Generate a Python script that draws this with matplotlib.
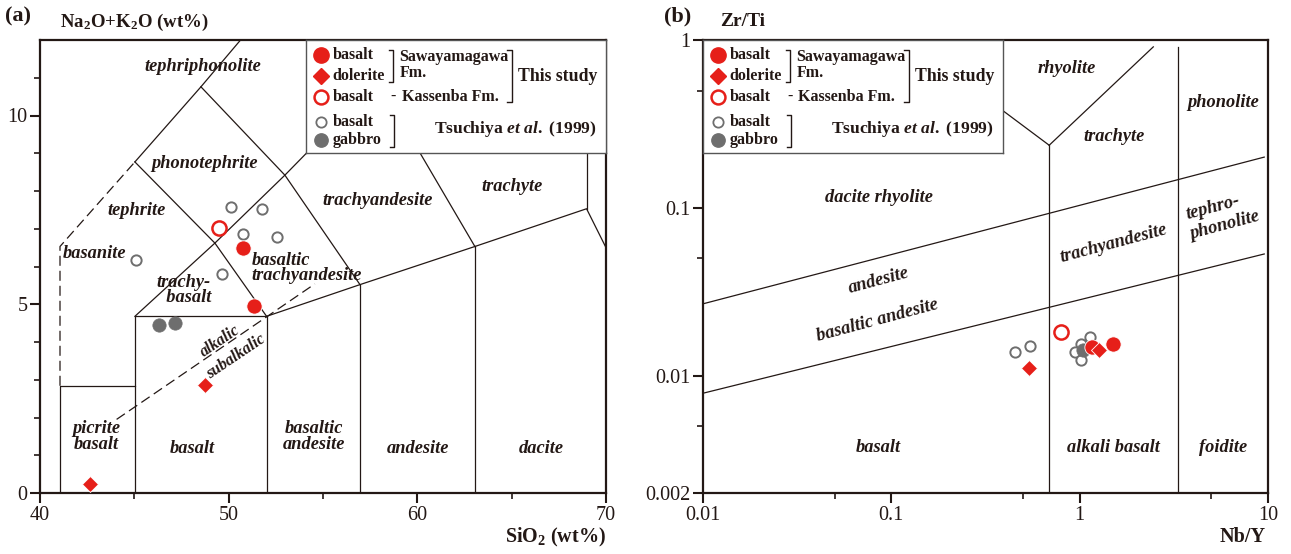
import numpy as np
import matplotlib as mpl
mpl.use("Agg")
from matplotlib import pyplot as plt

# ---- data ----
# (a) TAS: SiO2 vs Na2O+K2O
ss_basalt_sio2 = [50.74, 51.34]
ss_basalt_alk = [6.49, 4.96]
ss_dolerite_sio2 = [48.74, 42.65]
ss_dolerite_alk = [2.86, 0.24]
kb_basalt_sio2 = [49.50]
kb_basalt_alk = [7.02]
ts_basalt_sio2 = [50.12, 51.75, 50.78, 52.58, 45.07, 49.65]
ts_basalt_alk = [7.58, 7.51, 6.87, 6.78, 6.18, 5.81]
ts_gabbro_sio2 = [46.32, 47.15]
ts_gabbro_alk = [4.46, 4.50]

# (b) Nb/Y vs Zr/Ti
ss_basalt_nby = [1.16, 1.51]
ss_basalt_zrti = [0.01486, 0.01548]
ss_dolerite_nby = [0.541, 1.26]
ss_dolerite_zrti = [0.01105, 0.01419]
kb_basalt_nby = [0.800]
kb_basalt_zrti = [0.01823]
ts_basalt_nby = [0.452, 0.545, 1.13, 1.02, 0.943, 1.02]
ts_basalt_zrti = [0.01387, 0.01506, 0.01703, 0.01555, 0.01387, 0.01239]
ts_gabbro_nby = [1.04]
ts_gabbro_zrti = [0.0142]

# field boundaries
tas_lines = [
    [(41.06, 0), (41.06, 2.84), (45.03, 2.84)],
    [(45.03, 0), (45.03, 4.68), (52.01, 4.68), (52.01, 0)],
    [(52.01, 4.68), (56.96, 5.52), (63.05, 6.53), (68.97, 7.53), (70.0, 6.5)],
    [(56.96, 0), (56.96, 5.52)],
    [(63.05, 0), (63.05, 6.53)],
    [(68.97, 7.53), (68.97, 10.0)],
    [(45.03, 4.68), (49.27, 6.62), (52.98, 8.42), (60.0, 12.0)],
    [(45.03, 8.77), (49.27, 6.62), (52.01, 4.68)],
    [(45.03, 8.77), (48.53, 10.76), (50.63, 12.0)],
    [(48.53, 10.76), (52.98, 8.42), (56.96, 5.52)],
    [(56.6, 12.0), (60.14, 9.01), (63.05, 6.53)],
]
tas_dashed = [
    [(41.06, 2.84), (41.06, 6.53), (45.03, 8.77)],
    [(44.06, 1.95), (54.57, 5.54)],
]
wf_lines = [
    [(0.689, 0.002), (0.689, 0.236)],
    [(0.689, 0.236), (2.46, 0.91)],
    [(0.689, 0.236), (0.25, 0.552)],
    [(3.32, 0.002), (3.32, 0.91)],
    [(0.01, 0.0268), (9.55, 0.2006)],
    [(0.01, 0.00786), (9.55, 0.0531)],
]

tas_labels = [
    ("tephriphonolite", 48.64, 11.3),
    ("phonotephrite", 48.74, 8.73),
    ("tephrite", 45.14, 7.48),
    ("basanite", 42.9, 6.34),
    ("trachyandesite", 57.9, 7.75),
    ("trachyte", 65.0, 8.12),
    ("picrite\nbasalt", 43.0, 1.5),
    ("basalt", 48.05, 1.17),
    ("basaltic\nandesite", 54.52, 1.5),
    ("andesite", 60.03, 1.17),
    ("dacite", 66.55, 1.17),
]
wf_labels = [
    ("rhyolite", 0.859, 0.679, 0),
    ("trachyte", 1.53, 0.265, 0),
    ("phonolite", 5.75, 0.425, 0),
    ("dacite rhyolite", 0.0855, 0.116, 0),
    ("trachyandesite", 1.52, 0.0615, 15),
    ("andesite", 0.0855, 0.0369, 15),
    ("basaltic andesite", 0.0848, 0.0214, 15),
    ("basalt", 0.0855, 0.00374, 0),
    ("alkali basalt", 1.52, 0.00374, 0),
    ("foidite", 5.79, 0.00374, 0),
]

RED = "#e61f19"
GRAY = "#6e6e6e"
INK = "#231815"

plt.rcParams["font.family"] = ["Liberation Serif", "DejaVu Serif"]
plt.rcParams["mathtext.fontset"] = "custom"
plt.rcParams["mathtext.rm"] = "Liberation Serif:bold"
plt.rcParams["mathtext.it"] = "Liberation Serif:italic:bold"
plt.rcParams["mathtext.bf"] = "Liberation Serif:bold"
plt.rcParams["text.color"] = INK
plt.rcParams["xtick.color"] = INK
plt.rcParams["ytick.color"] = INK

W, H = 1291, 554
fig = plt.figure(figsize=(W / 100, H / 100), dpi=100)
ax1 = fig.add_axes([40 / W, 1 - 493 / H, 566 / W, 453 / H])
ax2 = fig.add_axes([703 / W, 1 - 493 / H, 565 / W, 453 / H])

lab_kw = dict(fontsize=13.2, fontweight="bold", fontstyle="italic", ha="center", va="center")


def style_axes(ax):
    for s in ax.spines.values():
        s.set_linewidth(1.6)
        s.set_color(INK)
    ax.tick_params(which="major", direction="out", length=7, width=1.5, labelsize=14.5, pad=2)
    ax.tick_params(which="minor", direction="out", length=4.5, width=1.2)


def draw_points(ax, d):
    ax.plot(d["tb"][0], d["tb"][1], "o", ms=7.4, mfc="white", mec=GRAY, mew=1.4, ls="none", zorder=3)
    ax.plot(d["tg"][0], d["tg"][1], "o", ms=9.6, mfc=GRAY, mec=GRAY, mew=0.5, ls="none", zorder=3)
    ax.plot(d["kb"][0], d["kb"][1], "o", ms=10.2, mfc="white", mec=RED, mew=1.8, ls="none", zorder=4)
    ax.plot(d["sb"][0], d["sb"][1], "o", ms=11, mfc=RED, mec="white", mew=0.6, ls="none", zorder=4)
    ax.plot(d["sd"][0], d["sd"][1], "D", ms=8.6, mfc=RED, mec="white", mew=0.6, ls="none", zorder=5)


# ---- (a) TAS ----
style_axes(ax1)
ax1.set_xlim(40, 70)
ax1.set_ylim(0, 12)
ax1.set_xticks([40, 50, 60, 70])
ax1.set_xticks([45, 55, 65], minor=True)
ax1.set_yticks([0, 5, 10])
ax1.set_yticks([1, 2, 3, 4, 6, 7, 8, 9, 11], minor=True)
for ln in tas_lines:
    xs, ys = zip(*ln)
    ax1.plot(xs, ys, color=INK, lw=0.9, zorder=1)
for ln in tas_dashed:
    xs, ys = zip(*ln)
    ax1.plot(xs, ys, color=INK, lw=0.9, ls=(0, (8, 4)), zorder=1)
for t, x, y in tas_labels:
    ax1.text(x, y, t, linespacing=0.95, **lab_kw)
ax1.text(47.62, 5.38, "trachy-\n  basalt", linespacing=0.85, multialignment="left", **lab_kw)
ax1.text(51.22, 5.95, "basaltic\ntrachyandesite", linespacing=0.85, fontsize=13.2, fontweight="bold",
         fontstyle="italic", ha="left", va="center")
ax1.text(49.54, 4.02, "alkalic", fontsize=11.5, fontweight="bold", fontstyle="italic", ha="center", va="center", rotation=34)
ax1.text(50.39, 3.6, "subalkalic", fontsize=11.5, fontweight="bold", fontstyle="italic", ha="center", va="center", rotation=34)

draw_points(ax1, dict(tb=(ts_basalt_sio2, ts_basalt_alk), tg=(ts_gabbro_sio2, ts_gabbro_alk),
                      kb=(kb_basalt_sio2, kb_basalt_alk), sb=(ss_basalt_sio2, ss_basalt_alk),
                      sd=(ss_dolerite_sio2, ss_dolerite_alk)))

# ---- (b) Winchester & Floyd ----
style_axes(ax2)
ax2.set_xscale("log")
ax2.set_yscale("log")
ax2.set_xlim(0.01, 10)
ax2.set_ylim(0.002, 1)
ax2.set_xticks([0.01, 0.1, 1, 10], ["0.01", "0.1", "1", "10"])
ax2.set_xticks([0.05, 0.5, 5], [], minor=True)
ax2.set_yticks([0.002, 0.01, 0.1, 1], ["0.002", "0.01", "0.1", "1"])
ax2.set_yticks([0.005, 0.05, 0.5], [], minor=True)
for ln in wf_lines:
    xs, ys = zip(*ln)
    ax2.plot(xs, ys, color=INK, lw=0.9, zorder=1)
for t, x, y, r in wf_labels:
    ax2.text(x, y, t, rotation=r, rotation_mode="anchor", **lab_kw)
ax2.text(5.08, 0.1005, "tephro-", rotation=15, rotation_mode="anchor", **lab_kw)
ax2.text(5.93, 0.0782, "phonolite", rotation=15, rotation_mode="anchor", **lab_kw)

draw_points(ax2, dict(tb=(ts_basalt_nby, ts_basalt_zrti), tg=(ts_gabbro_nby, ts_gabbro_zrti),
                      kb=(kb_basalt_nby, kb_basalt_zrti), sb=(ss_basalt_nby, ss_basalt_zrti),
                      sd=(ss_dolerite_nby, ss_dolerite_zrti)))

# ---- titles / axis labels ----
fig.text(5 / W, 1 - 16 / H, "(a)", fontsize=16, fontweight="bold", va="center", ha="left")
fig.text(60 / W, 1 - 22 / H, r"Na$_\mathrm{2}$O+K$_\mathrm{2}$O (wt%)", fontsize=13.5, fontweight="bold", va="center", ha="left")
fig.text(606 / W, 1 - 537 / H, r"SiO$_\mathrm{2}$ (wt%)", fontsize=14.5, fontweight="bold", va="center", ha="right")
fig.text(664 / W, 1 - 16 / H, "(b)", fontsize=16, fontweight="bold", va="center", ha="left")
fig.text(720 / W, 1 - 22 / H, "Zr/Ti", fontsize=14, fontweight="bold", va="center", ha="left")
fig.text(1266 / W, 1 - 537 / H, "Nb/Y", fontsize=14.5, fontweight="bold", va="center", ha="right")


# ---- legends ----
def draw_legend(x0):
    lg = fig.add_axes([x0 / W, 1 - 153 / H, 300 / W, 113 / H], zorder=6)
    lg.set_xlim(0, 300)
    lg.set_ylim(113, 0)
    lg.set_xticks([])
    lg.set_yticks([])
    lg.set_facecolor("white")
    for s in lg.spines.values():
        s.set_linewidth(1.0)
        s.set_color("#555555")
    rows = [15, 36, 57.3, 81.7, 100]
    lg.plot(14.5, rows[0], "o", ms=11, mfc=RED, mec=RED)
    lg.plot(14.5, rows[1], "D", ms=8.6, mfc=RED, mec=RED)
    lg.plot(14.5, rows[2], "o", ms=10, mfc="white", mec=RED, mew=1.8)
    lg.plot(14.5, rows[3], "o", ms=7.4, mfc="white", mec=GRAY, mew=1.3)
    lg.plot(14.5, rows[4], "o", ms=9.6, mfc=GRAY, mec=GRAY)
    kw = dict(fontsize=11.5, fontweight="bold", va="center", ha="left")
    for y, t in zip(rows, ["basalt", "dolerite", "basalt", "basalt", "gabbro"]):
        lg.text(26.5, y, t, **kw)
    bk = dict(color=INK, lw=1.0)
    lg.plot([83, 87, 87, 83], [10.5, 10.5, 41.7, 41.7], **bk)
    lg.plot([201, 205.5, 205.5, 201], [10, 10, 62.3, 62.3], **bk)
    lg.plot([84, 88, 88, 84], [75, 75, 106.7, 106.7], **bk)
    lg.text(93.5, 25, "Sawayamagawa\nFm.", linespacing=0.92, **kw)
    lg.text(84, 57.3, "-", **kw)
    lg.text(95.5, 57.3, "Kassenba Fm.", **kw)
    lg.text(212, 36.7, "This study", fontsize=12.8, fontweight="bold", va="center", ha="left")
    lg.text(291, 88.7, r"Tsuchiya $\mathit{et\ al.}$ (1999)", fontsize=12.6, fontweight="bold", va="center", ha="right")


draw_legend(306)
draw_legend(703)

fig.savefig("out.png", dpi=100)
